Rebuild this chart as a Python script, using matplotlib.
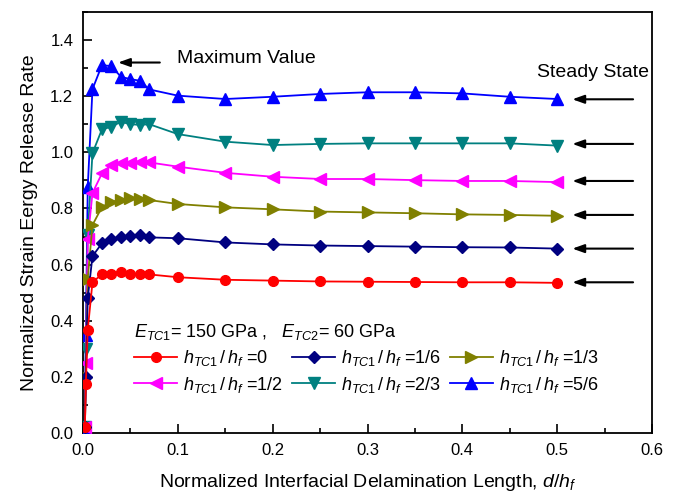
import matplotlib
matplotlib.use("Agg")
import matplotlib.pyplot as plt
from matplotlib.ticker import MultipleLocator

plt.rcParams['font.family'] = ['Liberation Sans', 'DejaVu Sans']
plt.rcParams['mathtext.fontset'] = 'custom'
plt.rcParams['mathtext.rm'] = 'Liberation Sans'
plt.rcParams['mathtext.it'] = 'Liberation Sans:italic'

# normalized delamination length d/h_f
x_pts = [0.002, 0.003, 0.005, 0.01, 0.02, 0.03, 0.04, 0.05, 0.06, 0.07,
         0.1, 0.15, 0.2, 0.25, 0.3, 0.35, 0.4, 0.45, 0.5]

g_0 = [0.02, 0.175, 0.367, 0.537, 0.566, 0.567, 0.572, 0.568, 0.567, 0.565,
       0.555, 0.546, 0.543, 0.540, 0.539, 0.538, 0.537, 0.537, 0.535]
g_16 = [0.02, 0.20, 0.48, 0.63, 0.676, 0.690, 0.697, 0.702, 0.705, 0.697,
        0.694, 0.679, 0.672, 0.668, 0.666, 0.664, 0.662, 0.661, 0.657]
g_13 = [0.02, 0.20, 0.55, 0.741, 0.805, 0.824, 0.830, 0.836, 0.833, 0.830,
        0.816, 0.804, 0.797, 0.789, 0.786, 0.783, 0.779, 0.777, 0.774]
g_12 = [0.02, 0.25, 0.69, 0.855, 0.925, 0.955, 0.961, 0.963, 0.964, 0.964,
        0.949, 0.927, 0.913, 0.905, 0.905, 0.901, 0.898, 0.898, 0.894]
g_23 = [0.02, 0.30, 0.705, 0.997, 1.082, 1.091, 1.109, 1.100, 1.098, 1.100,
        1.065, 1.038, 1.026, 1.030, 1.032, 1.032, 1.032, 1.032, 1.024]
g_56 = [0.02, 0.35, 0.875, 1.225, 1.311, 1.307, 1.269, 1.261, 1.255, 1.224,
        1.202, 1.190, 1.198, 1.208, 1.214, 1.214, 1.210, 1.198, 1.190]

ratios = ['0', '1/6', '1/3', '1/2', '2/3', '5/6']
series = [g_0, g_16, g_13, g_12, g_23, g_56]
colors = ['#FF0000', '#000080', '#808000', '#FF00FF', '#008080', '#0000FF']
markers = ['o', 'D', '>', '<', 'v', '^']
msizes = [7, 6.5, 8, 8, 8, 8]

# steady state levels pointed at on the right
steady_y = [1.189, 1.030, 0.898, 0.777, 0.657, 0.537]

fig = plt.figure(figsize=(6.78, 4.92), dpi=100)
ax = fig.add_axes([0.1224, 0.1199, 0.8393, 0.8557])

lines = []
for i in range(len(series)):
    ln, = ax.plot(x_pts, series[i], color=colors[i], marker=markers[i],
                  ms=msizes[i], lw=1.3, zorder=10 - i,
                  label=r'$h_{\mathit{TC1}}\,/\,h_{\mathit{f}}$ =' + ratios[i])
    lines.append(ln)

ax.set_xlim(0, 0.6)
ax.set_ylim(0, 1.5)
ax.xaxis.set_major_locator(MultipleLocator(0.1))
ax.xaxis.set_minor_locator(MultipleLocator(0.05))
ax.yaxis.set_major_locator(MultipleLocator(0.2))
ax.yaxis.set_minor_locator(MultipleLocator(0.1))
ax.set_yticks([0.0, 0.2, 0.4, 0.6, 0.8, 1.0, 1.2, 1.4])
ax.tick_params(which='both', direction='in', top=False, right=False,
               labelsize=12, width=1.2, pad=7)
ax.tick_params(which='major', length=6.5)
ax.tick_params(which='minor', length=3.5)
for s in ax.spines.values():
    s.set_linewidth(1.3)

ax.set_xlabel(r'Normalized Interfacial Delamination Length, $d/h_{f}$',
              fontsize=14, labelpad=10)
ax.set_ylabel('Normalized Strain Eergy Release Rate', fontsize=14,
              labelpad=9)

# arrows
arrow = dict(arrowstyle='-|>,head_length=0.7,head_width=0.25',
             color='black', lw=1.5, shrinkA=0, shrinkB=0)
ax.annotate('', xy=(0.037, 1.32), xytext=(0.081, 1.32), arrowprops=arrow)
ax.text(0.099, 1.333, 'Maximum Value', fontsize=14, va='center')
for yv in steady_y:
    ax.annotate('', xy=(0.516, yv), xytext=(0.58, yv), arrowprops=arrow)
ax.text(0.479, 1.286, 'Steady State', fontsize=14, va='center')

order = [0, 3, 1, 4, 2, 5]
leg = ax.legend([lines[k] for k in order], [lines[k].get_label() for k in order],
                ncol=3, frameon=False, fontsize=13, loc='upper left',
                bbox_to_anchor=(0.074, 0.285), borderpad=0,
                handlelength=2.4, handletextpad=0.3, columnspacing=0.5,
                labelspacing=0.35, alignment='left',
                title=r'$E_{\mathit{TC1}}$= 150 GPa ,   $E_{\mathit{TC2}}$= 60 GPa',
                title_fontsize=13)

fig.savefig('out.png', dpi=100)
